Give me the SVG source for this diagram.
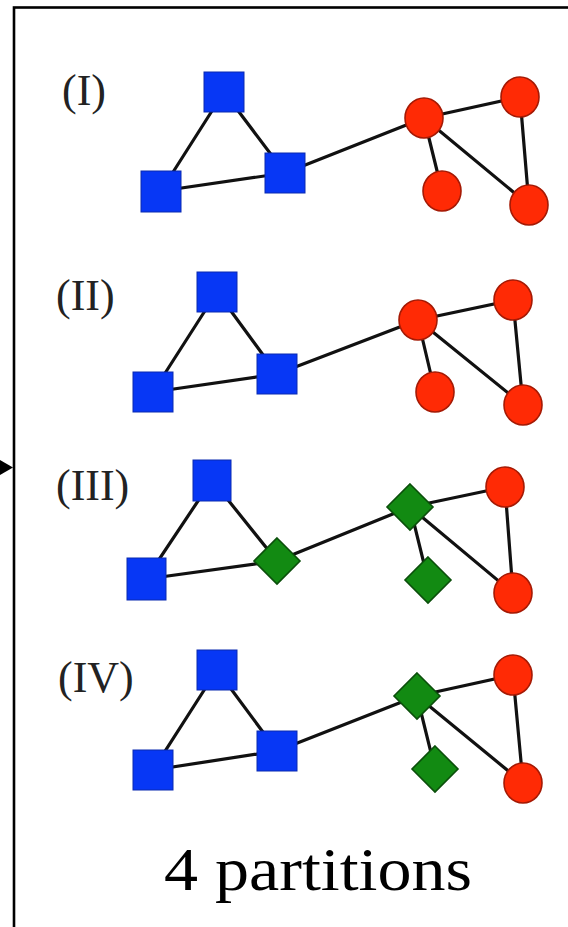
<svg xmlns="http://www.w3.org/2000/svg" width="568" height="927" viewBox="0 0 568 927">
<style>
.frame{fill:none;stroke:#000;stroke-width:2.6}
.edge{stroke:#111;stroke-width:3.2;stroke-linecap:round;fill:none}
.sq{fill:#0737f5;stroke:#0a2ab0;stroke-width:1}
.ci{fill:#ff2a05;stroke:#a51a05;stroke-width:1.6}
.di{fill:#128a12;stroke:#0b4f0b;stroke-width:1.6}
.lab{font-family:"Liberation Serif","Times New Roman",serif;font-size:44px;fill:#222}
.cap{font-family:"Liberation Serif","Times New Roman",serif;font-size:62px;fill:#000}
</style>
<rect width="568" height="927" fill="#fff"/>
<rect class="frame" x="14" y="7.5" width="620" height="1000"/>

<g id="connectors">
  <polygon points="0,460 13,467.5 0,475" fill="#000"/>
  <!-- panel I -->
  <line class="edge" x1="224" y1="92" x2="161" y2="191"/>
  <line class="edge" x1="224" y1="92" x2="285" y2="173"/>
  <line class="edge" x1="161" y1="191" x2="285" y2="173"/>
  <line class="edge" x1="285" y1="173" x2="424" y2="118"/>
  <line class="edge" x1="424" y1="118" x2="520" y2="97"/>
  <line class="edge" x1="424" y1="118" x2="442" y2="191"/>
  <line class="edge" x1="424" y1="118" x2="529" y2="205"/>
  <line class="edge" x1="520" y1="97" x2="529" y2="205"/>
  <!-- panel II -->
  <line class="edge" x1="217" y1="292" x2="153" y2="392"/>
  <line class="edge" x1="217" y1="292" x2="277" y2="374"/>
  <line class="edge" x1="153" y1="392" x2="277" y2="374"/>
  <line class="edge" x1="277" y1="374" x2="418" y2="320"/>
  <line class="edge" x1="418" y1="320" x2="513" y2="300"/>
  <line class="edge" x1="418" y1="320" x2="435" y2="392"/>
  <line class="edge" x1="418" y1="320" x2="523" y2="405"/>
  <line class="edge" x1="513" y1="300" x2="523" y2="405"/>
  <!-- panel III -->
  <line class="edge" x1="212" y1="480" x2="146" y2="579"/>
  <line class="edge" x1="212" y1="480" x2="277" y2="561"/>
  <line class="edge" x1="146" y1="579" x2="277" y2="561"/>
  <line class="edge" x1="277" y1="561" x2="410" y2="507"/>
  <line class="edge" x1="410" y1="507" x2="505" y2="487"/>
  <line class="edge" x1="410" y1="507" x2="428" y2="580"/>
  <line class="edge" x1="410" y1="507" x2="513" y2="593"/>
  <line class="edge" x1="505" y1="487" x2="513" y2="593"/>
  <!-- panel IV -->
  <line class="edge" x1="217" y1="670" x2="153" y2="770"/>
  <line class="edge" x1="217" y1="670" x2="277" y2="751"/>
  <line class="edge" x1="153" y1="770" x2="277" y2="751"/>
  <line class="edge" x1="277" y1="751" x2="417" y2="696"/>
  <line class="edge" x1="417" y1="696" x2="513" y2="675"/>
  <line class="edge" x1="417" y1="696" x2="435" y2="769"/>
  <line class="edge" x1="417" y1="696" x2="523" y2="783"/>
  <line class="edge" x1="513" y1="675" x2="523" y2="783"/>
</g>

<g id="panel-1">
  <text class="lab" x="62" y="105">(I)</text>
  <g id="p1-b1"><rect class="sq" x="204" y="72" width="40" height="40"/></g>
  <g id="p1-b2"><rect class="sq" x="141" y="171" width="40" height="41"/></g>
  <g id="p1-b3"><rect class="sq" x="265" y="153" width="40" height="40"/></g>
  <g id="p1-r1"><ellipse class="ci" cx="424" cy="118" rx="19" ry="20"/></g>
  <g id="p1-r2"><ellipse class="ci" cx="520" cy="97" rx="19" ry="20"/></g>
  <g id="p1-r3"><ellipse class="ci" cx="442" cy="191" rx="19" ry="20"/></g>
  <g id="p1-r4"><ellipse class="ci" cx="529" cy="205" rx="19" ry="20"/></g>
</g>

<g id="panel-2">
  <text class="lab" x="56" y="310">(II)</text>
  <g id="p2-b1"><rect class="sq" x="197" y="272" width="40" height="40"/></g>
  <g id="p2-b2"><rect class="sq" x="133" y="372" width="40" height="40"/></g>
  <g id="p2-b3"><rect class="sq" x="257" y="354" width="40" height="40"/></g>
  <g id="p2-r1"><ellipse class="ci" cx="418" cy="320" rx="19" ry="20"/></g>
  <g id="p2-r2"><ellipse class="ci" cx="513" cy="300" rx="19" ry="20"/></g>
  <g id="p2-r3"><ellipse class="ci" cx="435" cy="392" rx="19" ry="20"/></g>
  <g id="p2-r4"><ellipse class="ci" cx="523" cy="405" rx="19" ry="20"/></g>
</g>

<g id="panel-3">
  <text class="lab" x="56" y="500">(III)</text>
  <g id="p3-b1"><rect class="sq" x="193" y="460" width="38" height="41"/></g>
  <g id="p3-b2"><rect class="sq" x="127" y="558" width="39" height="42"/></g>
  <g id="p3-g3"><polygon class="di" points="277,538 300,561 277,584 254,561"/></g>
  <g id="p3-g1"><polygon class="di" points="410,484 433,507 410,530 387,507"/></g>
  <g id="p3-g2"><polygon class="di" points="428,557 451,580 428,603 405,580"/></g>
  <g id="p3-r2"><ellipse class="ci" cx="505" cy="487" rx="19" ry="20"/></g>
  <g id="p3-r4"><ellipse class="ci" cx="513" cy="593" rx="19" ry="20"/></g>
</g>

<g id="panel-4">
  <text class="lab" x="58" y="692">(IV)</text>
  <g id="p4-b1"><rect class="sq" x="197" y="650" width="40" height="40"/></g>
  <g id="p4-b2"><rect class="sq" x="133" y="750" width="40" height="40"/></g>
  <g id="p4-b3"><rect class="sq" x="257" y="731" width="40" height="40"/></g>
  <g id="p4-g1"><polygon class="di" points="417,673 440,696 417,719 394,696"/></g>
  <g id="p4-g2"><polygon class="di" points="435,746 458,769 435,792 412,769"/></g>
  <g id="p4-r2"><ellipse class="ci" cx="513" cy="675" rx="19" ry="20"/></g>
  <g id="p4-r4"><ellipse class="ci" cx="523" cy="783" rx="19" ry="20"/></g>
</g>

<text class="cap" x="164" y="890" textLength="308" lengthAdjust="spacingAndGlyphs">4 partitions</text>
</svg>
